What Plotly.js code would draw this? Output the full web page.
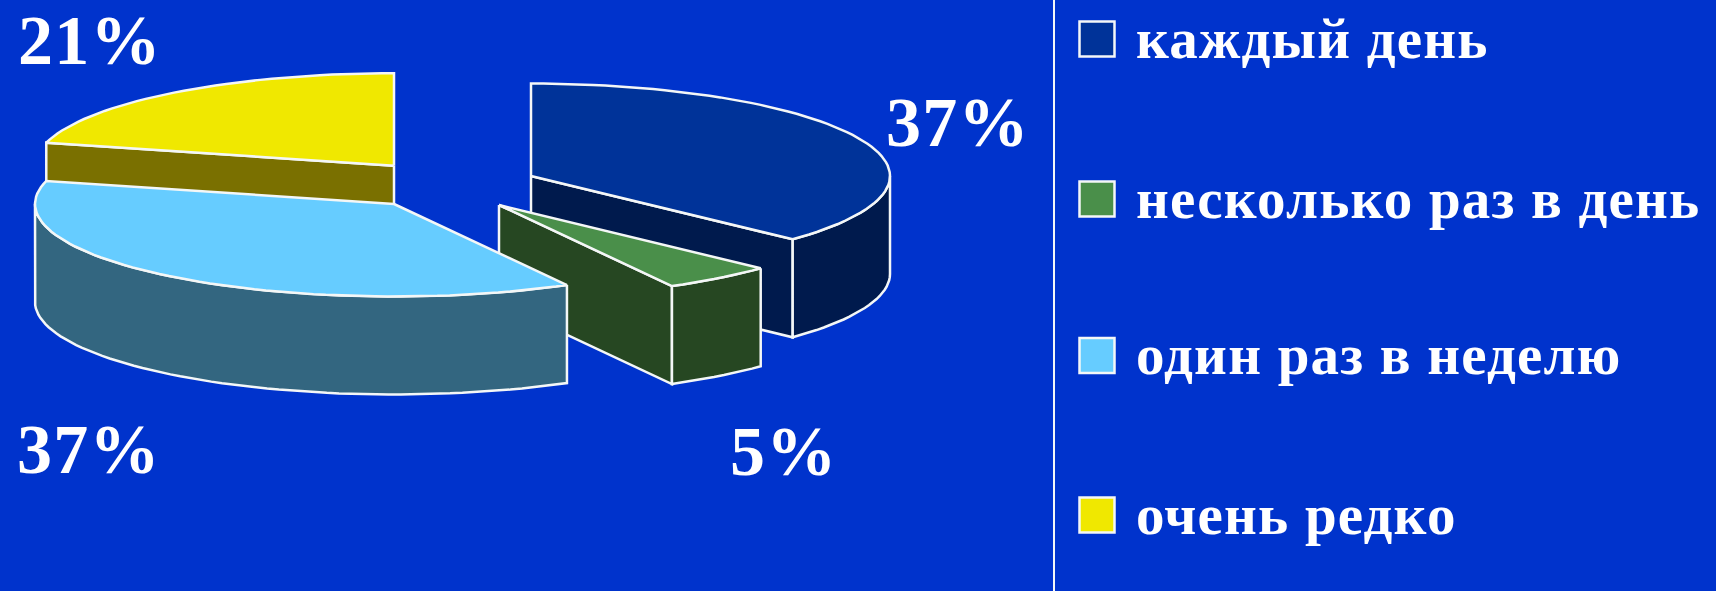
<!DOCTYPE html>
<html lang="ru">
<head>
<meta charset="utf-8">
<script src="https://cdn.plot.ly/plotly-3.0.1.min.js"></script>
<style>
  html, body { margin: 0; padding: 0; background: #0033cc; }
  #chart { width: 1716px; height: 591px; }
  .annotation-text { letter-spacing: 1.2px; }
</style>
</head>
<body>
<div id="chart"></div>
<script>
// Survey answers: how often the activity happens, in percent.
const categories = ['каждый день', 'несколько раз в день', 'один раз в неделю', 'очень редко'];
const shares = [37, 5, 37, 21];

// Colours of the upper faces and of the darker side walls.
const topColors = ['#003399', '#4a8f4a', '#66ccff', '#f0e800'];
const wallColors = ['#001a4d', '#264722', '#336680', '#7a7000'];
const outline = '#f4f7f7';
const background = '#0033cc';

// Pie geometry on a pixel-sized plot area; each slice has its own pulled-out centre.
const centres = [[531, 176], [499, 205], [394, 204], [394, 165.7]];
const radiusX = 359, radiusY = 92.5, depth = 98;

// Where the percentage figures sit.
const percentAnchors = [[884, 122.5], [728, 451], [15, 449.5], [16, 40]];

// Legend rows.
const legendSwatchX = 1097, legendTextX = 1134;
const legendRows = [39, 199, 355.5, 515];
const legendTextRows = [38, 198, 354.5, 514];
const dividerX = 1054;

const rad = d => d * Math.PI / 180;
const rim = (c, a, drop = 0) => [c[0] + radiusX * Math.sin(rad(a)), c[1] - radiusY * Math.cos(rad(a)) + drop];

function polygon(points, color, name) {
  return {
    type: 'scatter', mode: 'lines', name,
    x: points.map(p => p[0]), y: points.map(p => p[1]),
    fill: 'toself', fillcolor: color,
    line: { color: outline, width: 2.5, shape: 'linear' },
    hoverinfo: 'skip', showlegend: false
  };
}

function arc(c, from, to, drop = 0) {
  const pts = [];
  const n = Math.max(2, Math.ceil(Math.abs(to - from) / 2));
  for (let i = 0; i <= n; i++) pts.push(rim(c, from + (to - from) * i / n, drop));
  return pts;
}

function cutFace(c, angle, color, name) {
  const edge = rim(c, angle);
  return polygon([c, edge, [edge[0], edge[1] + depth], [c[0], c[1] + depth], c], color, name);
}

// Build one slice from the back to the front: visible cut faces, rim wall, then the top.
function sliceTraces(i, start, end) {
  const c = centres[i], out = [], name = categories[i];
  if (Math.sin(rad(start)) < -1e-6) out.push(cutFace(c, start, wallColors[i], name));
  if (Math.sin(rad(end)) > 1e-6) out.push(cutFace(c, end, wallColors[i], name));
  const wallFrom = Math.max(start, 90), wallTo = Math.min(end, 270);
  if (wallTo > wallFrom) {
    const upper = arc(c, wallFrom, wallTo);
    const lower = arc(c, wallTo, wallFrom, depth);
    out.push(polygon(upper.concat(lower, [upper[0]]), wallColors[i], name));
  }
  out.push(polygon([c].concat(arc(c, start, end), [c]), topColors[i], name));
  return out;
}

const total = shares.reduce((a, b) => a + b, 0);
const spans = [];
let running = 0;
shares.forEach((s, i) => {
  spans[i] = [running / total * 360, (running + s) / total * 360];
  running += s;
});

// Back slices first so that the nearer ones cover them.
const paintOrder = [3, 0, 1, 2];
const traces = [];
paintOrder.forEach(i => traces.push(...sliceTraces(i, spans[i][0], spans[i][1])));

// Legend swatches.
traces.push({
  type: 'scatter', mode: 'markers',
  x: legendRows.map(() => legendSwatchX), y: legendRows,
  marker: { symbol: 'square', size: 35, color: topColors, line: { color: outline, width: 2.5 } },
  hoverinfo: 'skip', showlegend: false
});

const serif = '"Liberation Serif", "Times New Roman", serif';
const annotations = [];
shares.forEach((s, i) => annotations.push({
  x: percentAnchors[i][0], y: percentAnchors[i][1], xref: 'x', yref: 'y',
  text: '<b>' + s + '%</b>', showarrow: false, xanchor: 'left', yanchor: 'middle',
  font: { family: serif, size: 70, color: '#ffffff' }
}));
categories.forEach((t, i) => annotations.push({
  x: legendTextX, y: legendTextRows[i], xref: 'x', yref: 'y',
  text: '<b>' + t + '</b>', showarrow: false, xanchor: 'left', yanchor: 'middle',
  font: { family: serif, size: 57, color: '#ffffff' }
}));

const layout = {
  width: 1716, height: 591,
  margin: { l: 0, r: 0, t: 0, b: 0 },
  paper_bgcolor: background, plot_bgcolor: background,
  xaxis: { range: [0, 1716], visible: false, fixedrange: true },
  yaxis: { range: [591, 0], visible: false, fixedrange: true },
  showlegend: false, hovermode: false,
  annotations,
  shapes: [{
    type: 'line', xref: 'x', yref: 'y', x0: dividerX, x1: dividerX, y0: 0, y1: 591,
    line: { color: outline, width: 2 }
  }]
};

Plotly.newPlot('chart', traces, layout, { displayModeBar: false, staticPlot: true });
</script>
</body>
</html>
